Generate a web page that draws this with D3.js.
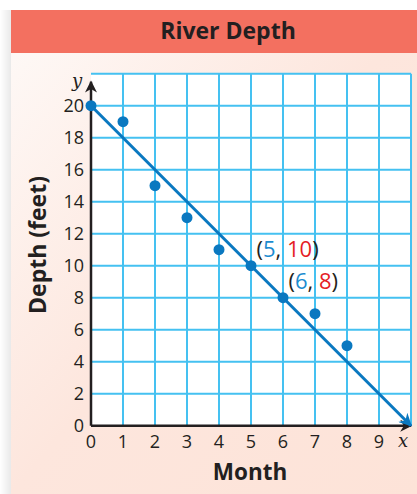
<!DOCTYPE html>
<html>
<head>
<meta charset="utf-8">
<script src="https://cdn.jsdelivr.net/npm/d3@7"></script>
<style>
  html, body { margin: 0; padding: 0; background: #fff; }
  svg { display: block; }
</style>
</head>
<body>
<div id="chart"></div>
<script>
// data
const months = [0, 1, 2, 3, 4, 5, 6, 7, 8];
const depths = [20, 19, 15, 13, 11, 10, 8, 7, 5];
const xTicks = [0, 1, 2, 3, 4, 5, 6, 7, 8, 9];
const yTicks = [0, 2, 4, 6, 8, 10, 12, 14, 16, 18, 20];
const trendStart = [0, 20];
const trendEnd = [10, 0];
const labelled = [[5, 10], [6, 8]];

const W = 417, H = 494;
const svg = d3.select('#chart').append('svg').attr('width', W).attr('height', H);

const defs = svg.append('defs');
const grad = defs.append('linearGradient').attr('id', 'bg')
  .attr('x1', '0').attr('y1', '0').attr('x2', '1').attr('y2', '1');
grad.append('stop').attr('offset', '0').attr('stop-color', '#fefaf8');
grad.append('stop').attr('offset', '0.5').attr('stop-color', '#fde6dd');
grad.append('stop').attr('offset', '1').attr('stop-color', '#fde3d8');

const shadow = defs.append('linearGradient').attr('id', 'sh')
  .attr('x1', '0').attr('x2', '1');
shadow.append('stop').attr('offset', '0').attr('stop-color', '#ffffff');
shadow.append('stop').attr('offset', '1').attr('stop-color', '#e9e9e9');

function arrow(id, color, w, l) {
  defs.append('marker').attr('id', id)
    .attr('viewBox', '0 0 10 10').attr('refX', 9).attr('refY', 5)
    .attr('markerUnits', 'userSpaceOnUse')
    .attr('markerWidth', l).attr('markerHeight', w)
    .attr('orient', 'auto')
    .append('path').attr('d', 'M0,0 L10,5 L0,10 L3,5 Z').attr('fill', color);
}
arrow('arrAxis', '#231f20', 12, 16);
arrow('arrTrend', '#0a78c0', 13, 18);

// panel
svg.append('rect').attr('x', 0).attr('y', 10).attr('width', 11).attr('height', H - 10).attr('fill', 'url(#sh)');
svg.append('rect').attr('x', 11).attr('y', 10).attr('width', W - 11).attr('height', H - 10).attr('fill', 'url(#bg)');
svg.append('rect').attr('x', 11).attr('y', 10).attr('width', W - 11).attr('height', 43).attr('fill', '#f37060');
svg.append('text').attr('x', 228).attr('y', 39).attr('text-anchor', 'middle')
  .attr('font-family', "'Open Sans', sans-serif").attr('font-weight', 'bold')
  .attr('font-size', 23).attr('fill', '#231f20').text('River Depth');

const x = d3.scaleLinear().domain([0, 10]).range([91, 411]);
const y = d3.scaleLinear().domain([0, 22]).range([425.7, 73.7]);

const plot = svg.append('g');
plot.append('rect').attr('x', x(0)).attr('y', y(22)).attr('width', x(10) - x(0))
  .attr('height', y(0) - y(22)).attr('fill', '#fff');

// grid
const gridColor = '#45c1f1';
plot.append('g').selectAll('line').data(d3.range(1, 11)).join('line')
  .attr('x1', d => x(d)).attr('x2', d => x(d)).attr('y1', y(0)).attr('y2', y(22))
  .attr('stroke', gridColor).attr('stroke-width', 2);
plot.append('g').selectAll('line').data(d3.range(2, 23, 2)).join('line')
  .attr('x1', x(0)).attr('x2', x(10)).attr('y1', d => y(d)).attr('y2', d => y(d))
  .attr('stroke', gridColor).attr('stroke-width', 2);

// axes
plot.append('line').attr('x1', x(0)).attr('x2', x(10)).attr('y1', y(0)).attr('y2', y(0))
  .attr('stroke', '#231f20').attr('stroke-width', 2.5).attr('marker-end', 'url(#arrAxis)');
plot.append('line').attr('x1', x(0)).attr('x2', x(0)).attr('y1', y(0)).attr('y2', y(21.5))
  .attr('stroke', '#231f20').attr('stroke-width', 2.5).attr('marker-end', 'url(#arrAxis)');

const tickFont = "'Open Sans', sans-serif";
plot.append('g').selectAll('text').data(yTicks).join('text')
  .attr('x', x(0) - 7).attr('y', d => y(d) + 6.5).attr('text-anchor', 'end')
  .attr('font-family', tickFont).attr('font-size', 18).attr('fill', '#231f20')
  .text(d => d);
plot.append('g').selectAll('text').data(xTicks).join('text')
  .attr('x', d => x(d)).attr('y', y(0) + 22).attr('text-anchor', 'middle')
  .attr('font-family', tickFont).attr('font-size', 18).attr('fill', '#231f20')
  .text(d => d);

svg.append('text').attr('x', x(9.75)).attr('y', y(0) + 21).attr('text-anchor', 'middle')
  .attr('font-family', "'DejaVu Serif', serif").attr('font-style', 'italic')
  .attr('font-size', 18).attr('fill', '#231f20').text('x');
svg.append('text').attr('x', x(0) - 14).attr('y', y(21.2)).attr('text-anchor', 'middle')
  .attr('font-family', "'DejaVu Serif', serif").attr('font-style', 'italic')
  .attr('font-size', 18).attr('fill', '#231f20').text('y');

// axis titles
svg.append('text').attr('x', 250).attr('y', 480).attr('text-anchor', 'middle')
  .attr('font-family', tickFont).attr('font-weight', 'bold').attr('font-size', 22.5)
  .attr('fill', '#231f20').text('Month');
svg.append('text').attr('transform', 'translate(46,245) rotate(-90)').attr('text-anchor', 'middle')
  .attr('font-family', tickFont).attr('font-weight', 'bold').attr('font-size', 23)
  .attr('fill', '#231f20').text('Depth (feet)');

// trend line
plot.append('line')
  .attr('x1', x(trendStart[0])).attr('y1', y(trendStart[1]))
  .attr('x2', x(trendEnd[0])).attr('y2', y(trendEnd[1]))
  .attr('stroke', '#0a78c0').attr('stroke-width', 3).attr('marker-end', 'url(#arrTrend)');

// points
plot.append('g').selectAll('circle').data(months).join('circle')
  .attr('cx', d => x(d)).attr('cy', (d, i) => y(depths[i])).attr('r', 5.5)
  .attr('fill', '#0a78c0');

// labels
const lab = plot.append('g').selectAll('text').data(labelled).join('text')
  .attr('x', d => x(d[0]) + 5.5).attr('y', d => y(d[1]) - 8.5)
  .attr('font-family', tickFont).attr('font-size', 22).attr('fill', '#231f20');
lab.append('tspan').text('(');
lab.append('tspan').attr('fill', '#1b8cd0').text(d => d[0]);
lab.append('tspan').text(', ');
lab.append('tspan').attr('fill', '#e51d25').text(d => d[1]);
lab.append('tspan').text(')');
</script>
</body>
</html>
